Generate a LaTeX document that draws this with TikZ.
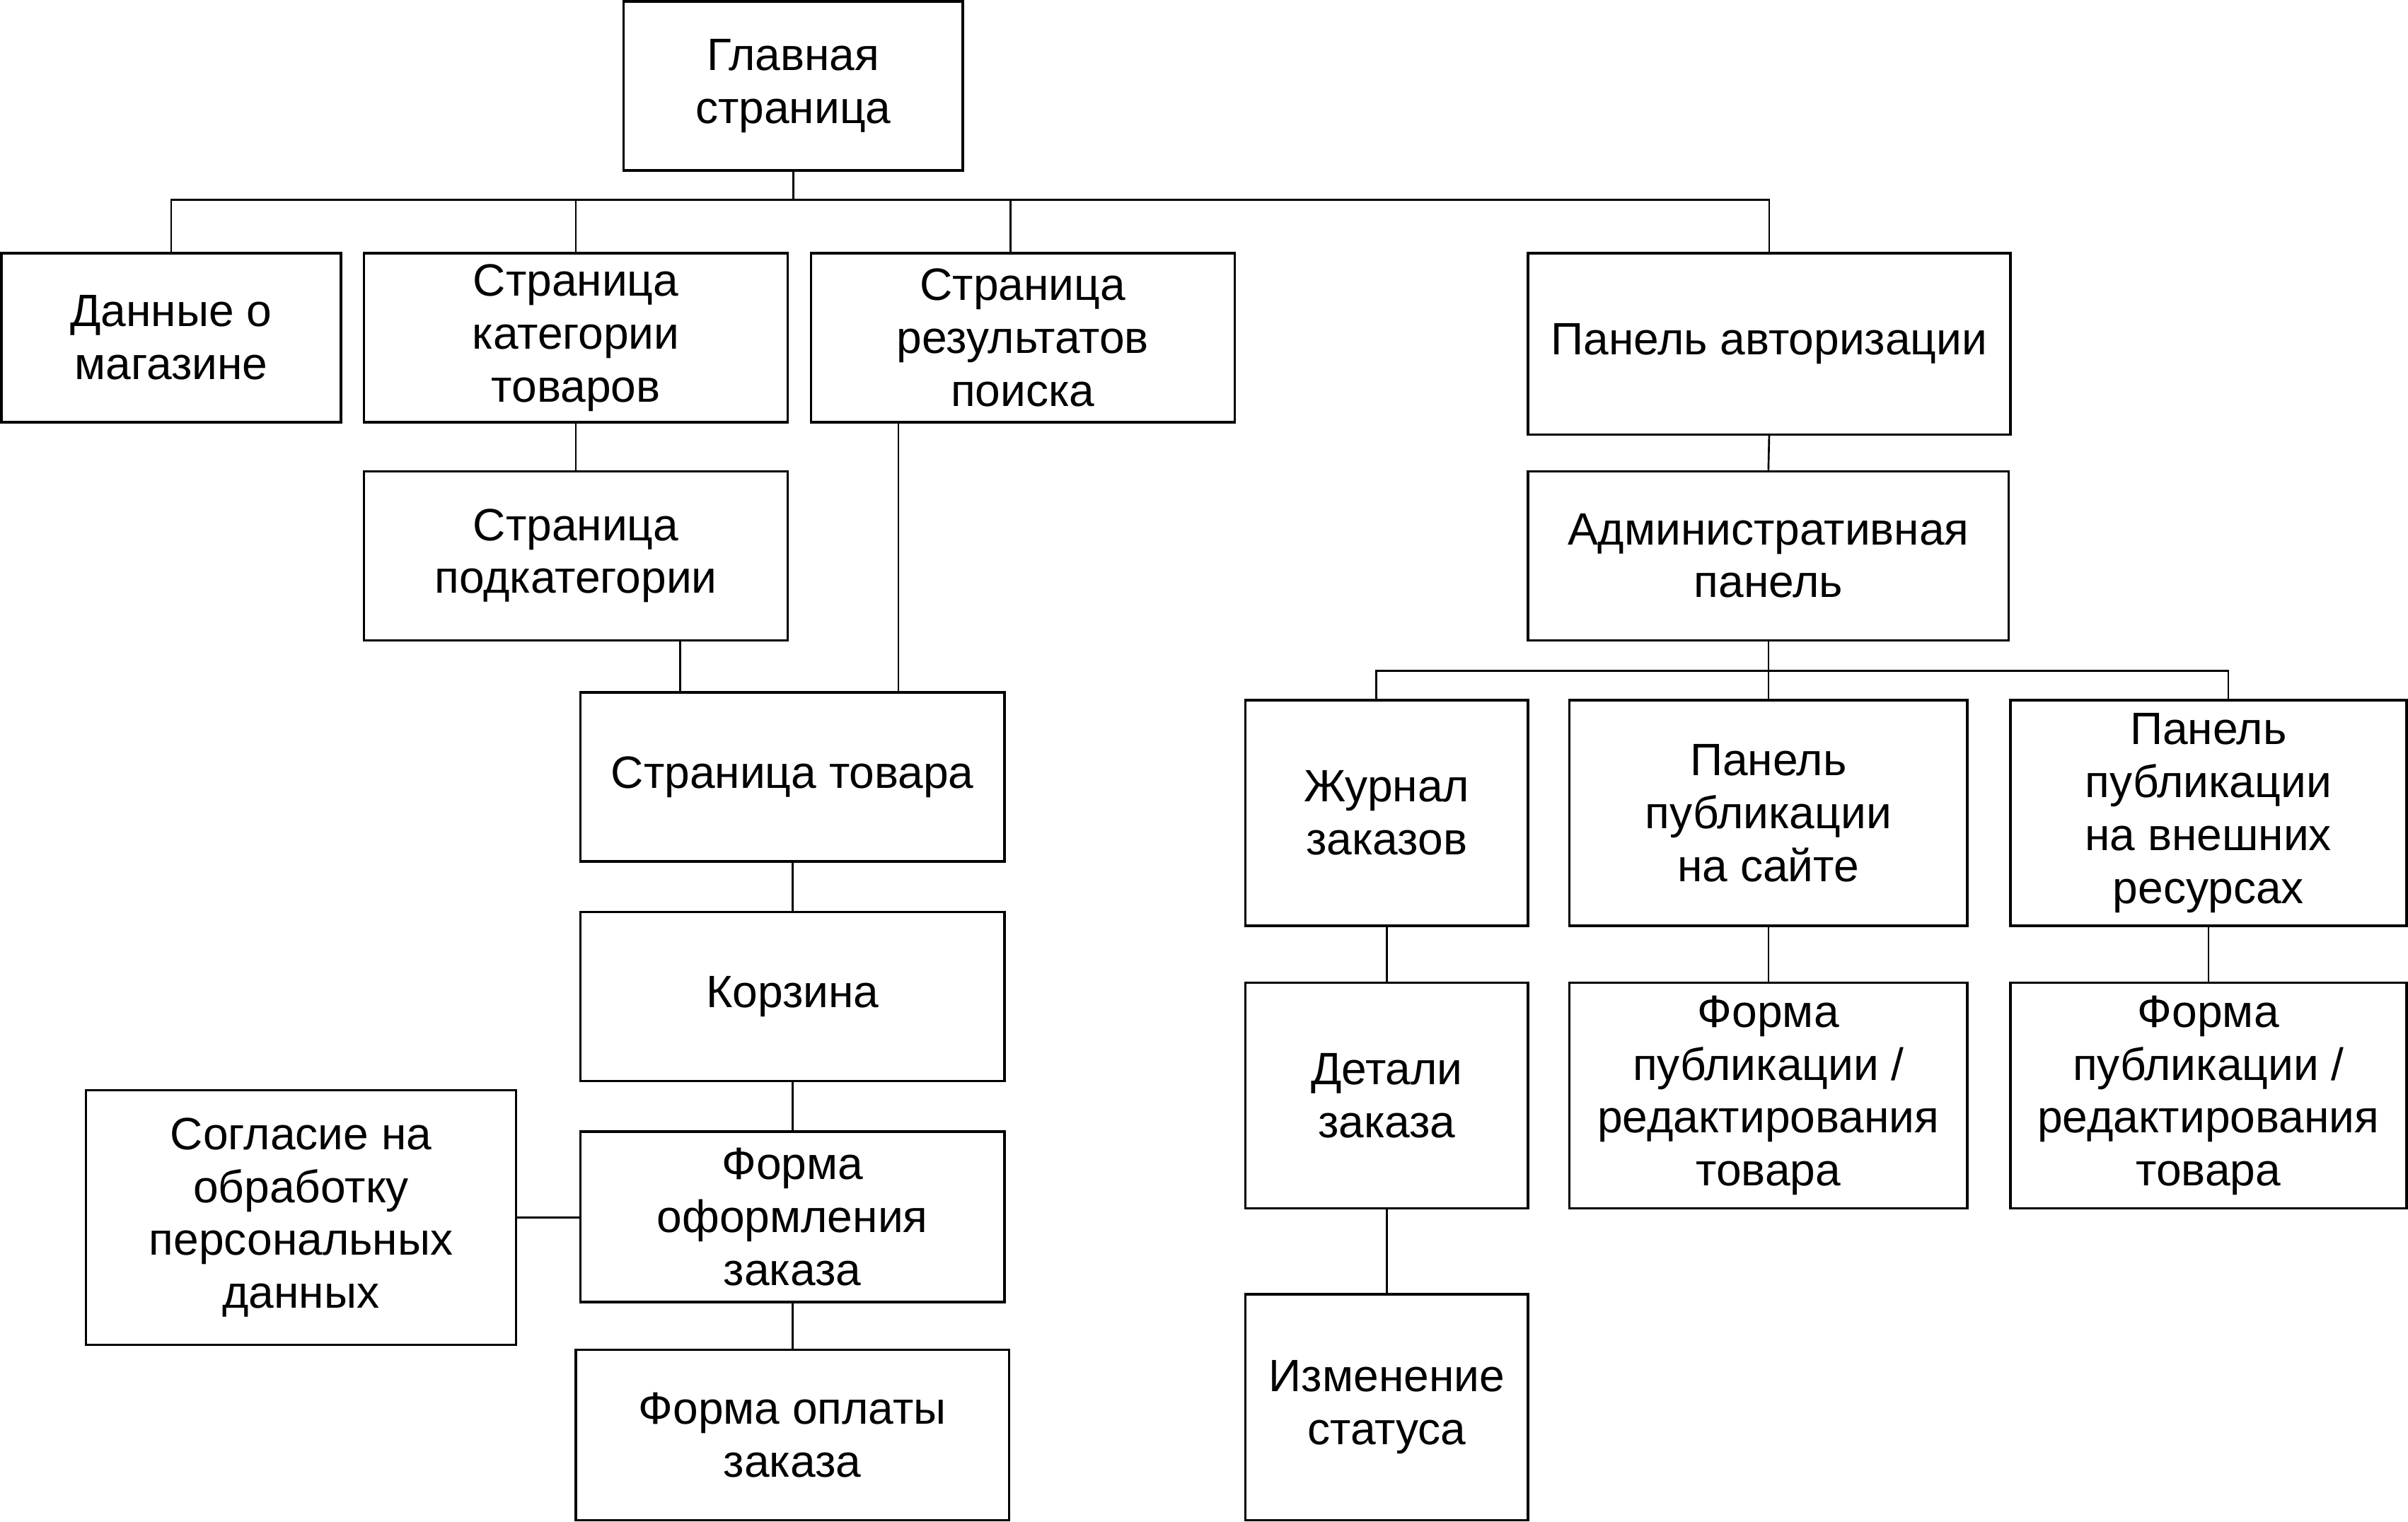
\documentclass[tikz,border=0pt]{standalone}
\usepackage{fontspec}
\setmainfont{Liberation Sans}
\usepackage{tikz}

\begin{document}
\begin{tikzpicture}[y=-1cm,
    pagebox/.style={draw, line width=0.45pt, align=center, inner sep=0pt,
        font=\fontsize{8.4}{9.8}\selectfont},
    link/.style={line width=0.35pt}]
    \useasboundingbox (0,0) rectangle (15.68,9.91);

    \node[pagebox, minimum width=2.21cm, minimum height=1.10cm] (glav) at (5.165,0.56) {Главная\\страница};
    \node[pagebox, minimum width=2.21cm, minimum height=1.10cm] (dannye) at (1.115,2.20) {Данные о\\магазине};
    \node[pagebox, minimum width=2.76cm, minimum height=1.10cm] (kateg) at (3.75,2.20) {Страница\\категории\\товаров};
    \node[pagebox, minimum width=2.76cm, minimum height=1.10cm] (poisk) at (6.66,2.20) {Страница\\результатов\\поиска};
    \node[pagebox, minimum width=3.14cm, minimum height=1.18cm] (avtor) at (11.52,2.24) {Панель авторизации};
    \node[pagebox, minimum width=2.76cm, minimum height=1.10cm] (podkat) at (3.75,3.62) {Страница\\подкатегории};
    \node[pagebox, minimum width=3.13cm, minimum height=1.10cm] (admin) at (11.515,3.62) {Административная\\панель};
    \node[pagebox, minimum width=2.76cm, minimum height=1.10cm] (tovar) at (5.16,5.06) {Страница товара};
    \node[pagebox, minimum width=1.84cm, minimum height=1.47cm] (zhurnal) at (9.03,5.295) {Журнал\\заказов};
    \node[pagebox, minimum width=2.59cm, minimum height=1.47cm] (psait) at (11.515,5.295) {Панель\\публикации\\на сайте};
    \node[pagebox, minimum width=2.58cm, minimum height=1.47cm] (pvnesh) at (14.38,5.295) {Панель\\публикации\\на внешних\\ресурсах};
    \node[pagebox, minimum width=2.76cm, minimum height=1.10cm] (korzina) at (5.16,6.49) {Корзина};
    \node[pagebox, minimum width=1.84cm, minimum height=1.47cm] (detali) at (9.03,7.135) {Детали\\заказа};
    \node[pagebox, minimum width=2.59cm, minimum height=1.47cm] (fsait) at (11.515,7.135) {Форма\\публикации /\\редактирования\\товара};
    \node[pagebox, minimum width=2.58cm, minimum height=1.47cm] (fvnesh) at (14.38,7.135) {Форма\\публикации /\\редактирования\\товара};
    \node[pagebox, minimum width=2.80cm, minimum height=1.66cm] (soglasie) at (1.96,7.93) {Согласие на\\обработку\\персональных\\данных};
    \node[pagebox, minimum width=2.76cm, minimum height=1.11cm] (oform) at (5.16,7.925) {Форма\\оформления\\заказа};
    \node[pagebox, minimum width=2.82cm, minimum height=1.11cm] (oplata) at (5.16,9.345) {Форма оплаты\\заказа};
    \node[pagebox, minimum width=1.84cm, minimum height=1.47cm] (status) at (9.03,9.165) {Изменение\\статуса};

    \coordinate (bus1) at (5.165,1.30);
    \coordinate (bus2) at (11.515,4.37);

    \draw[link] (glav.south) -- (bus1);
    \draw[link] (dannye.north) |- (bus1);
    \draw[link] (kateg.north) |- (bus1);
    \draw[link] ([xshift=-0.8mm]poisk.north) |- (bus1);
    \draw[link] (avtor.north) |- (bus1);
    \draw[link] (kateg.south) -- (podkat.north);
    \draw[link] ([xshift=6.8mm]podkat.south) -- ([xshift=6.8mm]podkat.south |- tovar.north);
    \draw[link] ([xshift=-8.1mm]poisk.south) -- ([xshift=-8.1mm]poisk.south |- tovar.north);
    \draw[link] (tovar.south) -- (korzina.north);
    \draw[link] (korzina.south) -- (oform.north);
    \draw[link] (oform.south) -- (oplata.north);
    \draw[link] (soglasie.east) -- (soglasie.east -| oform.west);
    \draw[link] (avtor.south) -- (admin.north);
    \draw[link] (admin.south) -- (bus2);
    \draw[link] ([xshift=-0.7mm]zhurnal.north) |- (bus2);
    \draw[link] (psait.north) -- (bus2);
    \draw[link] ([xshift=1.3mm]pvnesh.north) |- (bus2);
    \draw[link] (zhurnal.south) -- (detali.north);
    \draw[link] (detali.south) -- (status.north);
    \draw[link] (psait.south) -- (fsait.north);
    \draw[link] (pvnesh.south) -- (fvnesh.north);
\end{tikzpicture}
\end{document}
